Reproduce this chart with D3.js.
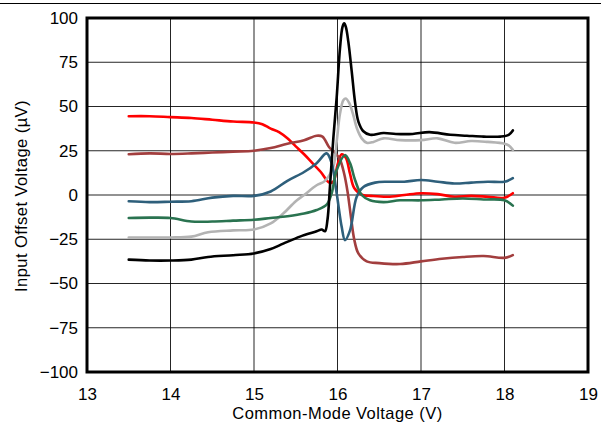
<!DOCTYPE html>
<html>
<head>
<meta charset="utf-8">
<script src="https://cdn.jsdelivr.net/npm/d3@7"></script>
<style>
  html, body { margin: 0; padding: 0; background: #fff; }
  svg { display: block; }
  text { font-family: "Liberation Sans", Arial, sans-serif; fill: #000; }
</style>
</head>
<body>
<svg id="chart" width="601" height="423"></svg>
<script>
// ---- data ----
const xTicks = [13, 14, 15, 16, 17, 18, 19];
const yTicks = [-100, -75, -50, -25, 0, 25, 50, 75, 100];

const redX = [13.5,13.75,14.0,14.25,14.5,14.75,15.0,15.1,15.2,15.3,15.4,15.5,15.6,15.7,15.8,15.9,15.95,16.0,16.05,16.1,16.15,16.2,16.3,16.4,16.6,16.8,17.0,17.2,17.4,17.6,17.8,18.0,18.1];
const redY = [44.5,44.5,44,43.5,42.5,41.5,41,40,37.5,35.5,32,27.5,23,18,13,7,7.5,17,23,21,12,4,0,-0.5,-1,0,1,0.5,-1,-0.5,-1,-1.5,1];

const brownX = [13.5,13.75,14.0,14.25,14.5,14.75,15.0,15.2,15.4,15.6,15.75,15.82,15.9,15.97,16.03,16.08,16.12,16.16,16.2,16.25,16.35,16.5,16.75,17.0,17.25,17.5,17.75,18.0,18.1];
const brownY = [23,23.5,23.2,23.5,24,24.5,25,26.5,29,31,33.5,33,27,24,20,12,2,-12,-25,-33,-37.5,-38.5,-39,-37.5,-36,-35,-34.5,-35.5,-34];

const blueX = [13.5,13.75,14.0,14.25,14.5,14.75,15.0,15.2,15.4,15.6,15.75,15.87,15.93,15.99,16.05,16.09,16.15,16.23,16.31,16.45,16.6,16.8,17.0,17.2,17.4,17.6,17.8,18.0,18.1];
const blueY = [-3.5,-4,-3.8,-3.5,-1.5,-0.5,-0.5,2,8,13,18,23.5,18,1,-18,-25.5,-20,-1,4.5,7,7.5,7.5,8.5,7.5,6.5,7,7.5,7.5,9.5];

const greenX = [13.5,13.75,14.0,14.25,14.5,14.75,15.0,15.2,15.4,15.6,15.75,15.87,15.93,15.99,16.09,16.15,16.21,16.29,16.39,16.55,16.75,17.0,17.25,17.5,17.75,18.0,18.1];
const greenY = [-13,-12.8,-13,-15,-15,-14.5,-14,-13,-12,-10.5,-8.5,-5.5,1,14,22.5,18,8.5,0,-3,-4,-3,-3,-2.5,-2,-2.5,-3,-6];

const grayX = [13.5,13.75,14.0,14.25,14.45,14.75,15.0,15.2,15.35,15.5,15.6,15.75,15.85,15.95,15.99,16.03,16.07,16.1,16.14,16.19,16.23,16.29,16.35,16.43,16.55,16.75,17.0,17.2,17.4,17.6,17.8,18.0,18.05,18.1];
const grayY = [-24,-24,-24,-23.5,-21,-20,-19.5,-16,-10.5,-3.5,0,5.5,8,16,30,46,53.5,54.5,52,45,38,32,29.5,30,32,31,31,32,29.5,30.5,30,29,28,25.5];

const blackX = [13.5,13.75,14.0,14.25,14.45,14.75,15.0,15.2,15.35,15.55,15.75,15.81,15.85,15.88,15.91,15.95,15.99,16.03,16.06,16.08,16.1,16.13,16.17,16.21,16.25,16.31,16.39,16.55,16.7,16.9,17.1,17.35,17.55,17.75,17.95,18.05,18.1];
const blackY = [-36.5,-37,-37,-36.5,-35,-34,-33,-30.5,-27.5,-23.5,-20.5,-19.5,-20.5,-14,5,32,55,83,95,97,95,86.5,70,52.5,41.5,36,34,35,34.5,34.5,35.5,34,33.5,33,33,34,36.5];

const seriesNames = ["red", "brown", "gray", "blue", "green", "black"];
const seriesColors = ["#FF0000", "#A23E3E", "#B3B3B3", "#2E5F7B", "#2A7350", "#000000"];
const seriesX = [redX, brownX, grayX, blueX, greenX, blackX];
const seriesY = [redY, brownY, grayY, blueY, greenY, blackY];

// ---- layout ----
const W = 601, H = 423;
const margin = { left: 87, top: 18, right: 13, bottom: 51 };
const pw = W - margin.left - margin.right;
const ph = H - margin.top - margin.bottom;

const svg = d3.select("#chart");

// thin top rule of the figure
svg.append("line").attr("x1", 0).attr("x2", W).attr("y1", 3.5).attr("y2", 3.5)
  .attr("stroke", "#000").attr("stroke-width", 1);

const x = d3.scaleLinear().domain([13, 19]).range([0, pw]);
const y = d3.scaleLinear().domain([-100, 100]).range([ph, 0]);

const g = svg.append("g").attr("transform", `translate(${margin.left},${margin.top})`);

// grid
g.append("g").selectAll("line").data(xTicks.slice(1, -1)).join("line")
  .attr("x1", d => x(d)).attr("x2", d => x(d)).attr("y1", 0).attr("y2", ph)
  .attr("stroke", "#000").attr("stroke-width", 1).attr("opacity", 0.85);
g.append("g").selectAll("line").data(yTicks.slice(1, -1)).join("line")
  .attr("y1", d => y(d)).attr("y2", d => y(d)).attr("x1", 0).attr("x2", pw)
  .attr("stroke", "#000").attr("stroke-width", 1).attr("opacity", 0.85);

// axes (labels only)
const xAxis = d3.axisBottom(x).tickValues(xTicks).tickSize(0).tickPadding(0).tickFormat(d3.format("d"));
const gx = g.append("g").attr("transform", `translate(0,${ph})`).call(xAxis);
gx.select(".domain").remove();
gx.selectAll("text").attr("font-size", 17).attr("dy", null).attr("y", 27.5)
  .attr("font-family", "'Liberation Sans', Arial, sans-serif");

const yAxis = d3.axisLeft(y).tickValues(yTicks).tickSize(0).tickPadding(9).tickFormat(d3.format("d"));
const gy = g.append("g").call(yAxis);
gy.select(".domain").remove();
gy.selectAll("text").attr("font-size", 17)
  .attr("font-family", "'Liberation Sans', Arial, sans-serif");

// series
const line = d3.line().curve(d3.curveCatmullRom.alpha(0.5))
  .x(d => x(d[0])).y(d => y(d[1]));
seriesNames.forEach((name, i) => {
  const pts = seriesX[i].map((xv, j) => [xv, seriesY[i][j]]);
  g.append("path").datum(pts)
    .attr("fill", "none").attr("stroke", seriesColors[i])
    .attr("stroke-width", 2.6).attr("stroke-linejoin", "round").attr("stroke-linecap", "round")
    .attr("d", line);
});

// frame
g.append("rect").attr("x", 0).attr("y", 0).attr("width", pw).attr("height", ph)
  .attr("fill", "none").attr("stroke", "#000").attr("stroke-width", 3);

// titles
svg.append("text").attr("x", margin.left + pw / 2).attr("y", 418.5)
  .attr("text-anchor", "middle").attr("font-size", 16.5).attr("letter-spacing", 0.45)
  .text("Common-Mode Voltage (V)");
svg.append("text").attr("transform", `translate(27,${margin.top + ph / 2 + 1}) rotate(-90)`)
  .attr("text-anchor", "middle").attr("font-size", 16.5).attr("letter-spacing", 0.45)
  .text("Input Offset Voltage (µV)");
</script>
</body>
</html>
